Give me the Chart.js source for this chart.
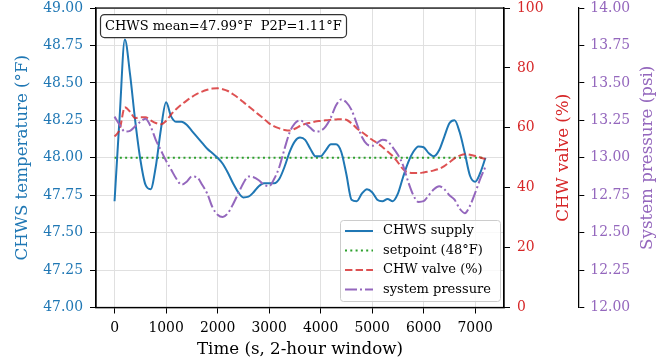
<!DOCTYPE html>
<html>
<head>
<meta charset="utf-8">
<script src="https://cdn.jsdelivr.net/npm/chart.js@4.4.1/dist/chart.umd.min.js"></script>
<style>
  html, body { margin: 0; padding: 0; background: #fff; }
</style>
</head>
<body>
<canvas id="chart" width="672" height="362"></canvas>
<script>
// time axis, seconds (100 s samples over the 2-hour window)
const timeSec = [0,100,200,300,400,500,600,700,800,900,1000,1100,1200,1300,1400,1500,1600,1700,1800,1900,
  2000,2100,2200,2300,2400,2500,2600,2700,2800,2900,3000,3100,3200,3300,3400,3500,3600,3700,3800,3900,
  4000,4100,4200,4300,4400,4500,4600,4700,4800,4900,5000,5100,5200,5300,5400,5500,5600,5700,5800,5900,
  6000,6100,6200,6300,6400,6500,6600,6700,6800,6900,7000,7100,7200];

// CHWS supply temperature (°F)
const chwsSupply = [47.71,48.28,48.79,48.56,48.25,47.99,47.82,47.79,47.94,48.19,
  48.37,48.275,48.24,48.24,48.22,48.18,48.14,48.10,48.06,48.03,
  48.00,47.96,47.90,47.83,47.77,47.735,47.74,47.77,47.81,47.83,
  47.83,47.83,47.86,47.94,48.04,48.11,48.135,48.12,48.06,48.01,
  48.01,48.05,48.09,48.09,48.04,47.89,47.72,47.71,47.76,47.79,
  47.77,47.72,47.71,47.725,47.71,47.76,47.87,47.97,48.04,48.075,
  48.07,48.03,48.01,48.05,48.14,48.23,48.25,48.17,48.03,47.88,
  47.84,47.90,48.00];

// CHW valve position (%)
const valvePct = [57.1,59.5,66.9,65.4,63.2,63.5,63.5,62.5,61.6,61.2,
  62.3,64.5,66.3,67.8,69.1,70.3,71.3,72.1,72.7,73.1,
  73.2,72.9,72.3,71.2,70.0,68.6,67.2,65.8,64.4,63.0,
  61.5,60.5,59.8,59.3,59.1,59.7,60.6,61.3,61.7,62.1,
  62.3,62.5,62.7,62.8,62.9,62.7,61.5,59.9,58.6,57.3,
  56.0,54.9,53.6,52.1,50.6,48.5,46.2,45.1,44.9,44.9,
  45.1,45.4,45.8,46.3,47.2,48.5,49.8,50.7,51.2,51.0,
  50.6,50.1,49.5];

// system pressure (psi)
const sysPressure = [13.275,13.22,13.175,13.18,13.21,13.24,13.26,13.21,13.12,13.05,
  12.98,12.92,12.86,12.82,12.84,12.875,12.87,12.82,12.76,12.67,
  12.62,12.605,12.63,12.69,12.76,12.83,12.875,12.87,12.85,12.82,
  12.81,12.86,12.94,13.06,13.17,13.23,13.25,13.23,13.20,13.175,
  13.18,13.21,13.27,13.35,13.39,13.37,13.32,13.23,13.14,13.09,
  13.08,13.10,13.12,13.11,13.07,13.02,12.95,12.84,12.75,12.705,
  12.71,12.75,12.79,12.81,12.79,12.75,12.72,12.66,12.63,12.68,
  12.765,12.86,12.94];

const setpointF = 48.0;
const xTicks = [0,1000,2000,3000,4000,5000,6000,7000];

const BLUE = '#1f77b4', GREEN = '#2ca02c', RED = '#d62728', PURPLE = '#9467bd';
const FONT = '"DejaVu Serif", "Liberation Serif", serif';
const tickFont = { family: FONT, size: 13.9 };
// small lineHeight only trims the layout padding that y labels reserve at the top
const yTickFont = { family: FONT, size: 13.9, lineHeight: 0.15 };

const pts = ys => timeSec.map((t, i) => ({ x: t, y: ys[i] }));

// titles, frame, stats box, legend
const extras = {
  id: 'extras',
  afterDraw(chart) {
    const ctx = chart.ctx, a = chart.chartArea;
    const s = chart.scales;
    ctx.save();
    ctx.strokeStyle = '#000';
    ctx.lineWidth = 1.25;
    ctx.strokeRect(a.left, a.top, a.right - a.left, a.bottom - a.top);

    const cy = (a.top + a.bottom) / 2;
    ctx.font = '16.7px ' + FONT;
    ctx.textAlign = 'center';
    ctx.textBaseline = 'middle';
    const vtitle = (txt, x, col) => {
      ctx.save();
      ctx.translate(x, cy);
      ctx.rotate(-Math.PI / 2);
      ctx.fillStyle = col;
      ctx.fillText(txt, 0, 0);
      ctx.restore();
    };
    vtitle('CHWS temperature (°F)', s.yT.left + 23, BLUE);
    vtitle('CHW valve (%)', s.yV.right - 15, RED);
    vtitle('System pressure (psi)', s.yP.right - 24, PURPLE);
    ctx.fillStyle = '#000';
    ctx.fillText('Time (s, 2-hour window)', (a.left + a.right) / 2, 350);

    // stats box
    ctx.font = '13px ' + FONT;
    ctx.textAlign = 'left';
    ctx.beginPath();
    ctx.roundRect(a.left + 4.5, a.top + 6.5, 246, 23, 4);
    ctx.fillStyle = '#fff';
    ctx.fill();
    ctx.lineWidth = 1.2;
    ctx.strokeStyle = '#333';
    ctx.stroke();
    ctx.fillStyle = '#000';
    ctx.fillText('CHWS mean=47.99°F  P2P=1.11°F', a.left + 9, a.top + 18.5);

    // legend
    const lx = 340.5, ly = 220.5, lw = 160, lh = 81;
    ctx.beginPath();
    ctx.roundRect(lx, ly, lw, lh, 3);
    ctx.fillStyle = 'rgba(255,255,255,0.8)';
    ctx.fill();
    ctx.lineWidth = 1;
    ctx.strokeStyle = '#cccccc';
    ctx.stroke();
    const items = [
      ['CHWS supply', BLUE, [], 2],
      ['setpoint (48°F)', GREEN, [2, 3.3], 1.8],
      ['CHW valve (%)', 'rgba(214,39,40,0.8)', [7.4, 3.2], 2],
      ['system pressure', PURPLE, [12, 3, 2, 3], 2]
    ];
    items.forEach((it, i) => {
      const y = 231 + i * 19.5;
      ctx.beginPath();
      ctx.setLineDash(it[2]);
      ctx.lineWidth = it[3];
      ctx.strokeStyle = it[1];
      ctx.moveTo(345, y);
      ctx.lineTo(373, y);
      ctx.stroke();
      ctx.setLineDash([]);
      ctx.fillStyle = '#000';
      ctx.fillText(it[0], 383, y);
    });
    ctx.restore();
  }
};

const ctx = document.getElementById('chart').getContext('2d');
const chart = new Chart(ctx, {
  type: 'line',
  data: {
    datasets: [
      {
        label: 'CHWS supply',
        data: pts(chwsSupply),
        yAxisID: 'yT',
        borderColor: BLUE,
        borderWidth: 2,
        cubicInterpolationMode: 'monotone',
        order: 3
      },
      {
        label: 'setpoint (48°F)',
        data: [{ x: timeSec[0], y: setpointF }, { x: timeSec[timeSec.length - 1], y: setpointF }],
        yAxisID: 'yT',
        borderColor: GREEN,
        borderWidth: 1.8,
        borderDash: [2, 3.3],
        order: 4
      },
      {
        label: 'CHW valve (%)',
        data: pts(valvePct),
        yAxisID: 'yV',
        borderColor: 'rgba(214,39,40,0.8)',
        borderWidth: 2,
        borderDash: [7.4, 3.2],
        cubicInterpolationMode: 'monotone',
        order: 2
      },
      {
        label: 'system pressure',
        data: pts(sysPressure),
        yAxisID: 'yP',
        borderColor: PURPLE,
        borderWidth: 2,
        borderDash: [12, 3, 2, 3],
        cubicInterpolationMode: 'monotone',
        order: 1
      }
    ]
  },
  options: {
    responsive: false,
    animation: false,
    events: [],
    elements: { point: { radius: 0 } },
    layout: { padding: 0 },
    plugins: {
      legend: { display: false },
      tooltip: { enabled: false }
    },
    scales: {
      x: {
        type: 'linear',
        min: -360,
        max: 7560,
        afterBuildTicks: sc => { sc.ticks = xTicks.map(v => ({ value: v })); },
        afterFit: sc => { sc.height = 54.5; },
        grid: { color: '#e0e0e0', tickColor: '#000', tickLength: 6 },
        border: { color: '#000', width: 1.25 },
        ticks: { color: '#000', font: tickFont, padding: 7, maxRotation: 0,
          callback: v => String(v) }
      },
      yT: {
        position: 'left',
        min: 47, max: 49,
        afterFit: sc => { sc.width = 96; },
        grid: { color: '#e0e0e0', tickColor: '#000', tickLength: 6 },
        border: { color: '#000', width: 1.25 },
        ticks: { stepSize: 0.25, color: BLUE, font: yTickFont, padding: 7,
          callback: v => v.toFixed(2) }
      },
      yV: {
        position: 'right',
        weight: 0,
        min: 0, max: 100,
        afterFit: sc => { sc.width = 74.3; },
        grid: { drawOnChartArea: false, tickColor: '#000', tickLength: 6 },
        border: { color: '#000', width: 1.25 },
        ticks: { stepSize: 20, color: RED, font: yTickFont, padding: 7 }
      },
      yP: {
        position: 'right',
        weight: 1,
        min: 12, max: 14,
        afterFit: sc => { sc.width = 93.7; },
        grid: { drawOnChartArea: false, tickColor: '#000', tickLength: 6 },
        border: { color: '#000', width: 1.25 },
        ticks: { stepSize: 0.25, color: PURPLE, font: yTickFont, padding: 6,
          callback: v => v.toFixed(2) }
      }
    }
  },
  plugins: [extras]
});
</script>
</body>
</html>
